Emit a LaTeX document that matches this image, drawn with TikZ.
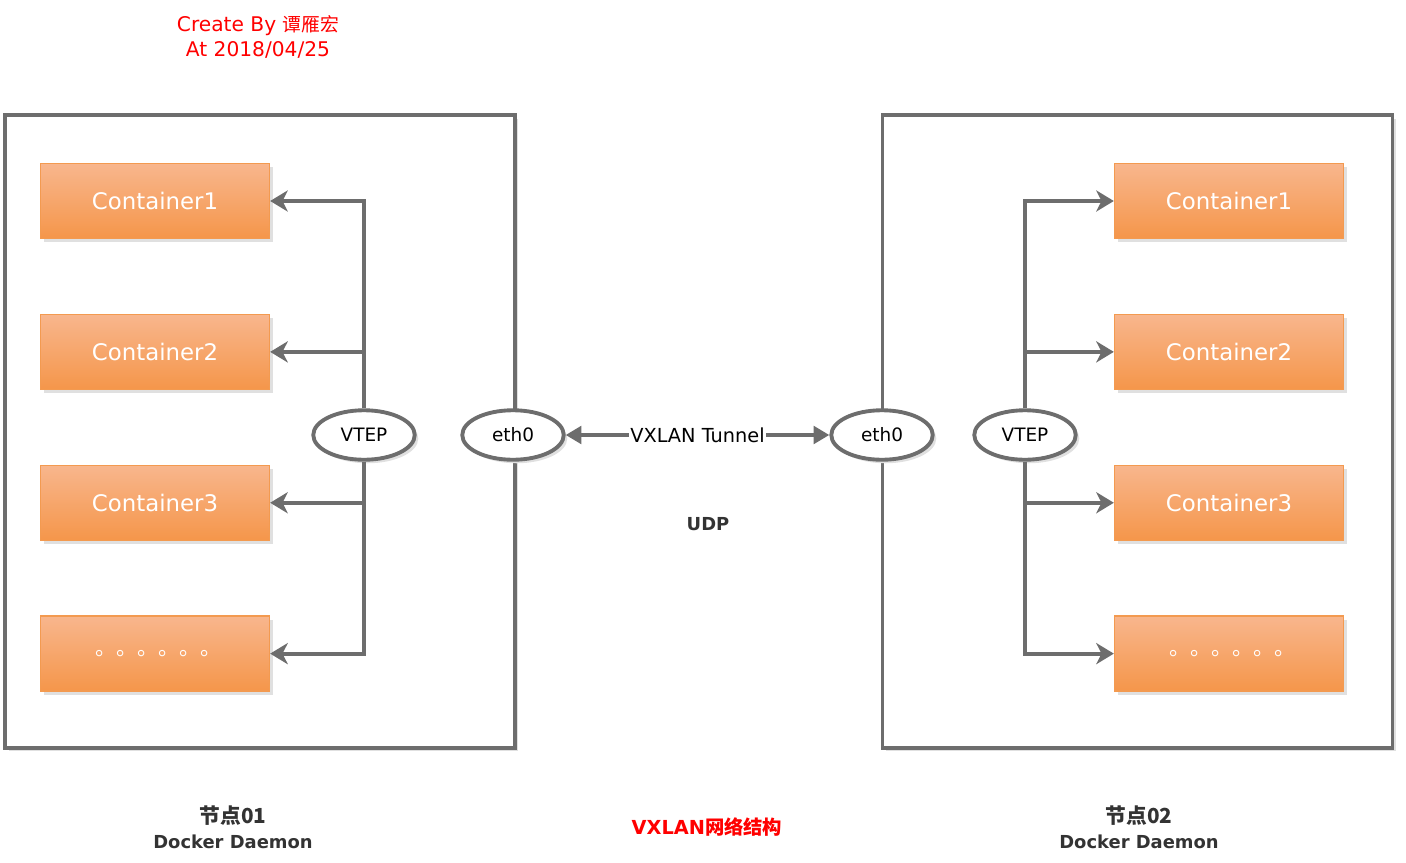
\documentclass[tikz,border=0pt]{standalone}
\usepackage{fontspec}
\setmainfont{DejaVu Sans}
\newfontfamily\cjk{Noto Sans CJK SC}
\usetikzlibrary{arrows.meta,positioning,shapes.geometric,shadows}

\definecolor{edgegray}{HTML}{6D6D6D}
\definecolor{ctop}{HTML}{F8B68D}
\definecolor{cbottom}{HTML}{F5964A}
\definecolor{cborder}{HTML}{F39A50}
\definecolor{textdark}{HTML}{333333}

\begin{document}
\begin{tikzpicture}[x=0.02cm,y=-0.02cm,>={Stealth[length=10pt,width=12pt,inset=3pt]},
node distance=1.49cm]

\tikzstyle{softshadow}=[drop shadow={shadow xshift=2pt,shadow yshift=-2pt,fill=black!12,opacity=1}]
\tikzstyle{host}=[rectangle,draw=edgegray,fill=white,line width=2.2pt,minimum width=10.2cm,minimum height=12.66cm,softshadow]
\tikzstyle{container}=[rectangle,draw=cborder,line width=0.8pt,top color=ctop,bottom color=cbottom,text=white,
  minimum width=4.58cm,minimum height=1.5cm,font=\fontsize{13}{15}\selectfont,softshadow]
\tikzstyle{port}=[ellipse,draw=edgegray,fill=white,line width=2.2pt,minimum width=2.03cm,minimum height=0.99cm,
  inner sep=0pt,font=\fontsize{10.5}{12}\selectfont,softshadow]
\tikzstyle{wire}=[->,draw=edgegray,line width=2.2pt]
\tikzstyle{tunnel}=[{Triangle[length=9pt,width=10pt]}-{Triangle[length=9pt,width=10pt]},draw=edgegray,line width=2.2pt]
\tikzstyle{caption}=[text=textdark,align=center,font=\bfseries\fontsize{10.2}{14}\selectfont]
\tikzstyle{note}=[text=red,align=center,font=\fontsize{11.5}{14}\selectfont]

\useasboundingbox (0,0) rectangle (1406,862);

% the two docker hosts
\node[host] (host1) at (260,431.5) {};
\node[host] (host2) at (1137.5,431.5) {};

% containers of node 01
\node[container] (c1) at (155,201) {Container1};
\node[container] (c2) [below=of c1] {Container2};
\node[container] (c3) [below=of c2] {Container3};
\node[container] (c4) [below=of c3] {\cjk\fontsize{12}{14}\selectfont\hspace{0.35em}。。。。。。};

% containers of node 02
\node[container] (d1) at (1229,201) {Container1};
\node[container] (d2) [below=of d1] {Container2};
\node[container] (d3) [below=of d2] {Container3};
\node[container] (d4) [below=of d3] {\cjk\fontsize{12}{14}\selectfont\hspace{0.35em}。。。。。。};

\node[port] (vtep1) at (364,435) {VTEP};
\node[port] (eth1)  at (513,435) {eth0};
\node[port] (eth2)  at (882,435) {eth0};
\node[port] (vtep2) at (1025,435) {VTEP};

\foreach \c in {c1,c2,c3,c4}
  \draw[wire] (vtep1) |- (\c.east);
\foreach \d in {d1,d2,d3,d4}
  \draw[wire] (vtep2) |- (\d.west);

\draw[tunnel] (eth1) -- node[fill=white,inner sep=1pt,font=\fontsize{11}{13}\selectfont] {VXLAN Tunnel} (eth2);

\node[font=\bfseries\fontsize{10.2}{12}\selectfont,text=textdark] (udp) at (708,524) {UDP};

% titles
\node[note] (author) at (258,37) {Create By {\cjk\fontsize{10.7}{14}\selectfont 谭雁宏}\\At 2018/04/25};
\node[caption] (name1) at (233,827) {{\cjk\fontsize{11.8}{14}\selectfont 节点01}\\Docker Daemon};
\node[caption] (name2) at (1139,827) {{\cjk\fontsize{11.8}{14}\selectfont 节点02}\\Docker Daemon};
\node[caption,text=red,font=\bfseries\fontsize{11}{14}\selectfont] (title) at (707,827) {VXLAN{\cjk 网络结构}};
\end{tikzpicture}
\end{document}
